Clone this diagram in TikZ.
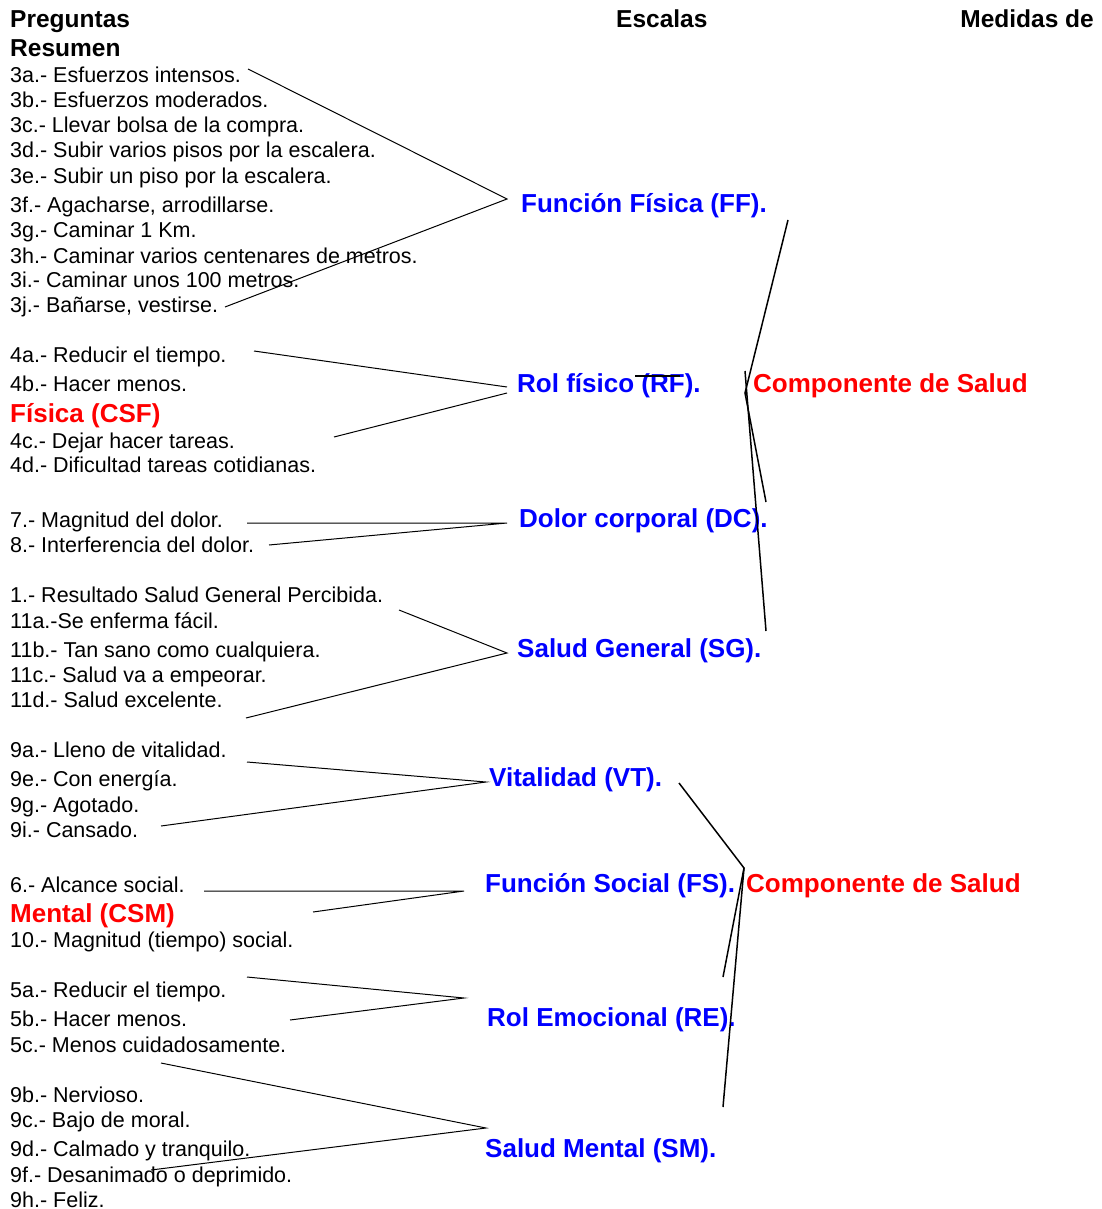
\documentclass[tikz,border=0pt]{standalone}
\usepackage{fontspec}
\setmainfont{Liberation Sans}
\definecolor{lblue}{RGB}{0,0,255}
\definecolor{lred}{RGB}{255,0,0}
\begin{document}
\begin{tikzpicture}[x=1pt,y=-1pt,
  q/.style={anchor=base west, inner sep=0pt, font=\fontsize{21.5}{25}\selectfont},
  hd/.style={anchor=base west, inner sep=0pt, font=\fontsize{24.5}{28}\selectfont\bfseries},
  sc/.style={anchor=base west, inner sep=0pt, text=lblue, font=\fontsize{26}{30}\selectfont\bfseries},
  cmp/.style={anchor=base west, inner sep=0pt, text=lred, font=\fontsize{26}{30}\selectfont\bfseries},
  ln/.style={draw=black, line width=1pt},
  rl/.style={draw=black, line width=1.5pt}]
\useasboundingbox[fill=white] (0,0) rectangle (1101,1209);

% headings
\node[hd] (h1) at (10,28) {Preguntas};
\node[hd] (h2) at (10,57) {Resumen};
\node[hd] (h3) at (616,28) {Escalas};
\node[hd, anchor=base east] (h4) at (1094,28) {Medidas de};

% questions
\node[q] (q3a) at (10,83) {3a.- Esfuerzos intensos.};
\node[q] (q3b) at (10,108) {3b.- Esfuerzos moderados.};
\node[q] (q3c) at (10,133) {3c.- Llevar bolsa de la compra.};
\node[q] (q3d) at (10,158) {3d.- Subir varios pisos por la escalera.};
\node[q] (q3e) at (10,183) {3e.- Subir un piso por la escalera.};
\node[q] (q3f) at (10,212) {3f.- Agacharse, arrodillarse.};
\node[q] (q3g) at (10,237) {3g.- Caminar 1 Km.};
\node[q] (q3h) at (10,263) {3h.- Caminar varios centenares de metros.};
\node[q] (q3i) at (10,287) {3i.- Caminar unos 100 metros.};
\node[q] (q3j) at (10,312) {3j.- Bañarse, vestirse.};

\node[q] (q4a) at (10,362) {4a.- Reducir el tiempo.};
\node[q] (q4b) at (10,391) {4b.- Hacer menos.};
\node[cmp] (csf) at (10,422) {Física (CSF)};
\node[q] (q4c) at (10,448) {4c.- Dejar hacer tareas.};
\node[q] (q4d) at (10,472) {4d.- Dificultad tareas cotidianas.};

\node[q] (q7) at (10,527) {7.- Magnitud del dolor.};
\node[q] (q8) at (10,552) {8.- Interferencia del dolor.};

\node[q] (q1) at (10,602) {1.- Resultado Salud General Percibida.};
\node[q] (q11a) at (10,628) {11a.-Se enferma fácil.};
\node[q] (q11b) at (10,657) {11b.- Tan sano como cualquiera.};
\node[q] (q11c) at (10,682) {11c.- Salud va a empeorar.};
\node[q] (q11d) at (10,707) {11d.- Salud excelente.};

\node[q] (q9a) at (10,757) {9a.- Lleno de vitalidad.};
\node[q] (q9e) at (10,786) {9e.- Con energía.};
\node[q] (q9g) at (10,812) {9g.- Agotado.};
\node[q] (q9i) at (10,837) {9i.- Cansado.};

\node[q] (q6) at (10,892) {6.- Alcance social.};
\node[cmp] (csm) at (10,922) {Mental (CSM)};
\node[q] (q10) at (10,947) {10.- Magnitud (tiempo) social.};

\node[q] (q5a) at (10,997) {5a.- Reducir el tiempo.};
\node[q] (q5b) at (10,1026) {5b.- Hacer menos.};
\node[q] (q5c) at (10,1052) {5c.- Menos cuidadosamente.};

\node[q] (q9b) at (10,1102) {9b.- Nervioso.};
\node[q] (q9c) at (10,1127) {9c.- Bajo de moral.};
\node[q] (q9d) at (10,1156) {9d.- Calmado y tranquilo.};
\node[q] (q9f) at (10,1182) {9f.- Desanimado o deprimido.};
\node[q] (q9h) at (10,1207) {9h.- Feliz.};

% scales
\node[sc] (ff) at (521,212) {Función Física (FF).};
\node[sc] (rf) at (517,392) {Rol físico (RF).};
\node[sc] (dc) at (519,527) {Dolor corporal (DC).};
\node[sc] (sg) at (517,657) {Salud General (SG).};
\node[sc] (vt) at (489,786) {Vitalidad (VT).};
\node[sc] (fs) at (485,892) {Función Social (FS).};
\node[sc] (re) at (487,1026) {Rol Emocional (RE).};
\node[sc] (sm) at (485,1157) {Salud Mental (SM).};

% components
\node[cmp] (c1) at (753,392) {Componente de Salud};
\node[cmp] (c2) at (746,892) {Componente de Salud};

% connector end points
\coordinate (ffa) at (248,69);  \coordinate (ffp) at (507,199); \coordinate (ffb) at (225,307);
\coordinate (rfa) at (254,351); \coordinate (rfp) at (507,387); \coordinate (rfq) at (507,393); \coordinate (rfb) at (334,437);
\coordinate (dca) at (247,523); \coordinate (dcp) at (507,523); \coordinate (dcb) at (269,545);
\coordinate (sga) at (399,610); \coordinate (sgp) at (507,653); \coordinate (sgb) at (246,718);
\coordinate (vta) at (247,762); \coordinate (vtp) at (486,782); \coordinate (vtb) at (161,826);
\coordinate (fsa) at (204,891); \coordinate (fsp) at (464,891); \coordinate (fsb) at (313,912);
\coordinate (rea) at (247,977); \coordinate (rep) at (464,998); \coordinate (reb) at (290,1020);
\coordinate (sma) at (161,1063); \coordinate (smp) at (486,1128); \coordinate (smb) at (151,1170);

\draw[ln] (ffa) -- (ffp) -- (ffb);
\draw[ln] (rfa) -- (rfp);
\draw[ln] (rfq) -- (rfb);
\draw[ln] (dca) -- (dcp) -- (dcb);
\draw[ln] (sga) -- (sgp) -- (sgb);
\draw[ln] (vta) -- (vtp) -- (vtb);
\draw[ln] (fsa) -- (fsp) -- (fsb);
\draw[ln] (rea) -- (rep) -- (reb);
\draw[ln] (sma) -- (smp) -- (smb);

% right brackets (top)
\coordinate (t1) at (788,220); \coordinate (tp) at (745,393); \coordinate (t2) at (766,502);
\coordinate (t3) at (745,371); \coordinate (t4) at (766,631);
\coordinate (t5) at (635,376); \coordinate (t6) at (680,376);
\draw[rl] (t1) -- (tp) -- (t2);
\draw[rl] (t3) -- (t4);
\draw[rl] (t5) -- (t6);

% right brackets (bottom)
\coordinate (b1) at (679,783); \coordinate (bp) at (744,868); \coordinate (b2) at (723,977);
\coordinate (b3) at (723,1107);
\draw[rl] (b1) -- (bp) -- (b2);
\draw[rl] (bp) -- (b3);
\end{tikzpicture}
\end{document}
